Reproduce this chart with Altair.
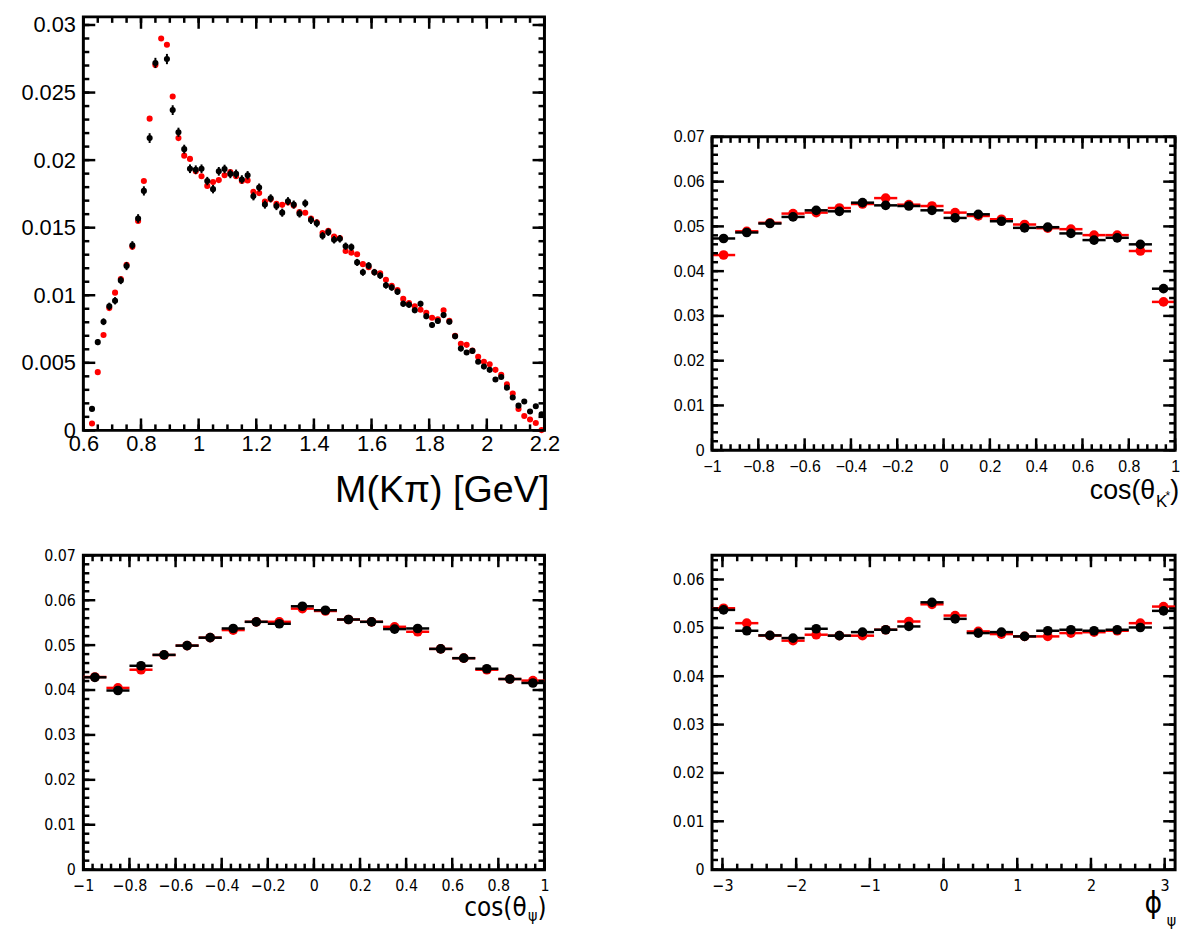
import altair as alt
import pandas as pd

# ---------------- data ----------------
MKPI_BINS = [0.63, 0.65, 0.67, 0.69, 0.71, 0.73, 0.75, 0.77, 0.79, 0.81,
             0.83, 0.85, 0.87, 0.89, 0.91, 0.93, 0.95, 0.97, 0.99, 1.01,
             1.03, 1.05, 1.07, 1.09, 1.11, 1.13, 1.15, 1.17, 1.19, 1.21,
             1.23, 1.25, 1.27, 1.29, 1.31, 1.33, 1.35, 1.37, 1.39, 1.41,
             1.43, 1.45, 1.47, 1.49, 1.51, 1.53, 1.55, 1.57, 1.59, 1.61,
             1.63, 1.65, 1.67, 1.69, 1.71, 1.73, 1.75, 1.77, 1.79, 1.81,
             1.83, 1.85, 1.87, 1.89, 1.91, 1.93, 1.95, 1.97, 1.99, 2.01,
             2.03, 2.05, 2.07, 2.09, 2.11, 2.13, 2.15, 2.17, 2.19]
MKPI_DATA = [0.00159, 0.00653, 0.00804, 0.00918, 0.00959, 0.0111, 0.01216, 0.0137, 0.01568, 0.01772,
             0.02163, 0.02719, None, 0.02748, 0.0237, 0.02206, 0.02081, 0.01936, 0.01929, 0.01936,
             0.01845, 0.01785, 0.01917, 0.01934, 0.01898, 0.01898, 0.01857, 0.01888, 0.01732, 0.01797,
             0.01671, 0.01717, 0.0166, 0.01611, 0.01696, 0.01671, 0.01604, 0.0168, 0.01556, 0.01532,
             0.0144, 0.01467, 0.01411, 0.01418, 0.01363, 0.01356, 0.01243, 0.0117, 0.01219, 0.0117,
             0.01146, 0.01074, 0.01057, 0.01026, 0.00937, 0.0093, 0.00889, 0.00937, 0.00845, 0.0078,
             0.00809, 0.00853, 0.00804, 0.00696, 0.00605, 0.00576, 0.00588, 0.00508, 0.00472, 0.00448,
             0.00376, 0.00395, 0.00316, 0.00243, 0.00183, 0.00214, 0.0014, 0.00178, 0.00118]
MKPI_ERR = [0.00012, 0.00022, 0.00025, 0.00027, 0.00027, 0.00028, 0.0003, 0.0003, 0.00032, 0.00034,
            0.00036, 0.00038, 0.0, 0.00038, 0.00036, 0.00034, 0.00033, 0.00032, 0.00032, 0.00032,
            0.00031, 0.00031, 0.00032, 0.00032, 0.00032, 0.00032, 0.00031, 0.00031, 0.0003, 0.0003,
            0.0003, 0.0003, 0.0003, 0.0003, 0.0003, 0.0003, 0.00029, 0.00029, 0.00029, 0.00029,
            0.00028, 0.00028, 0.00028, 0.00028, 0.00027, 0.00027, 0.00026, 0.00026, 0.00026, 0.00025,
            0.00025, 0.00025, 0.00024, 0.00024, 0.00023, 0.00023, 0.00022, 0.00022, 0.00022, 0.00021,
            0.00021, 0.00021, 0.00021, 0.0002, 0.00019, 0.00018, 0.00018, 0.00017, 0.00017, 0.00016,
            0.00015, 0.00015, 0.00014, 0.00013, 0.00012, 0.00012, 0.0001, 0.0001, 0.0001]
MKPI_FIT = [0.00051, 0.00431, 0.00706, 0.00905, 0.01019, 0.0112, 0.01226, 0.01358, 0.01549, 0.01845,
            0.02307, 0.02704, 0.029, 0.02854, 0.02471, 0.02163, 0.02033, 0.02009, 0.01917, 0.01881,
            0.01809, 0.01838, 0.01852, 0.01888, 0.01912, 0.01881, 0.01845, 0.0185, 0.01765, 0.01756,
            0.01693, 0.0171, 0.01676, 0.01669, 0.01686, 0.01664, 0.01616, 0.0161, 0.01568, 0.0154,
            0.0146, 0.01476, 0.01435, 0.01423, 0.01327, 0.01315, 0.01303, 0.0123, 0.01207, 0.0117,
            0.01163, 0.01115, 0.0107, 0.01038, 0.00973, 0.00942, 0.00918, 0.00893, 0.0087, 0.00833,
            0.00821, 0.00889, 0.0081, 0.007, 0.00641, 0.00633, 0.0059, 0.00544, 0.00508, 0.00489,
            0.00448, 0.00412, 0.0034, 0.00272, 0.00159, 0.00106, 0.0008, 0.00055, 0.00002]

COS_BINS = [-0.95, -0.85, -0.75, -0.65, -0.55, -0.45, -0.35, -0.25, -0.15, -0.05,
            0.05, 0.15, 0.25, 0.35, 0.45, 0.55, 0.65, 0.75, 0.85, 0.95]
COSK_DATA = [0.0473, 0.04864, 0.05064, 0.05211, 0.05359, 0.05337, 0.0553, 0.0547, 0.05455, 0.05359,
             0.05189, 0.0527, 0.05115, 0.04967, 0.04982, 0.04843, 0.04694, 0.04745, 0.04599, 0.03608]
COSK_FIT = [0.0436, 0.0489, 0.0508, 0.05286, 0.05308, 0.0541, 0.055, 0.05632, 0.05485, 0.05455,
            0.05308, 0.05233, 0.0516, 0.05042, 0.0496, 0.04938, 0.04805, 0.04805, 0.0445, 0.03313]
COSPSI_DATA = [0.04283, 0.03989, 0.0454, 0.04783, 0.04989, 0.05166, 0.05371, 0.05519, 0.05475, 0.05865,
               0.05777, 0.0557, 0.05519, 0.05357, 0.05371, 0.04916, 0.04709, 0.04474, 0.04245, 0.04157]
COSPSI_FIT = [0.0429, 0.04047, 0.04452, 0.0478, 0.04989, 0.05166, 0.05335, 0.05519, 0.05519, 0.05813,
              0.0576, 0.0557, 0.05519, 0.05408, 0.05298, 0.04916, 0.04709, 0.04452, 0.04245, 0.0421]
PHI_BINS = [-2.985, -2.670, -2.356, -2.042, -1.728, -1.414, -1.100, -0.785, -0.471, -0.157,
            0.157, 0.471, 0.785, 1.100, 1.414, 1.728, 2.042, 2.356, 2.670, 2.985]
PHI_DATA = [0.05371, 0.0494, 0.04844, 0.04789, 0.04981, 0.04838, 0.04912, 0.04961, 0.05029, 0.05528,
            0.05186, 0.04892, 0.04912, 0.04823, 0.0494, 0.04961, 0.0494, 0.04961, 0.05008, 0.05351]
PHI_FIT = [0.05405, 0.05097, 0.0484, 0.04735, 0.04858, 0.04838, 0.04838, 0.04961, 0.05131, 0.05487,
           0.05254, 0.04926, 0.04871, 0.04823, 0.04823, 0.04892, 0.0491, 0.0494, 0.05097, 0.0544]

TL_XTICKS = [0.6, 0.8, 1.0, 1.2, 1.4, 1.6, 1.8, 2.0, 2.2]
TL_YTICKS = [0, 0.005, 0.01, 0.015, 0.02, 0.025, 0.03]
COS_XTICKS = [-1, -0.8, -0.6, -0.4, -0.2, 0, 0.2, 0.4, 0.6, 0.8, 1]
ANG_YTICKS = [0, 0.01, 0.02, 0.03, 0.04, 0.05, 0.06, 0.07]
PHI_XTICKS = [-3, -2, -1, 0, 1, 2, 3]
PHI_YTICKS = [0, 0.01, 0.02, 0.03, 0.04, 0.05, 0.06]

# ---------------- styling ----------------
SANS = "Liberation Sans"
NARROW = "Liberation Sans Narrow, DejaVu Sans Condensed, Liberation Sans"
BLACK = "#000000"
RED = "#ff0000"
PI = 3.141592653589793
MAJ, MIN, TW = 12, 6, 2.5


def minor_ticks(lo, hi, step):
    n = int(round((hi - lo) / step))
    return [round(lo + step * i, 6) for i in range(n + 1)]


def one_row():
    return pd.DataFrame({"a": [0]})


def label_axis(orient, values, lfont, lsize, pad):
    return alt.Axis(orient=orient, values=values, format="~g", ticks=False, tickSize=0,
                    domain=False, grid=False, labelFont=lfont, labelFontSize=lsize,
                    labelPadding=pad, labelFlush=False, labelOverlap=False,
                    labelColor=BLACK, title=None)


def panel(xs_vals, data, fit, err, half, xdom, ydom, W, H, top, xmaj, xmin, ymaj, ymin,
          lfont, lsize, padx, pady, msize, hbars, titles):
    df = pd.DataFrame({"x": xs_vals, "data": data, "fit": fit, "err": err})
    df["lo"] = df["x"] - half
    df["hi"] = df["x"] + half
    df["elo"] = df["data"] - df["err"]
    df["ehi"] = df["data"] + df["err"]
    dd = df.dropna(subset=["data"])
    xs = alt.Scale(domain=xdom, nice=False, zero=False)
    ys = alt.Scale(domain=ydom, nice=False, zero=False, range=[H, top])

    def X(f, axis=None):
        return alt.X(f, scale=xs, axis=axis, title=None)

    def Y(f, axis=None):
        return alt.Y(f, scale=ys, axis=axis, title=None)

    layers = []
    # carrier of the tick labels
    layers.append(alt.Chart(df).mark_point(opacity=0).encode(
        x=X("x:Q", label_axis("bottom", xmaj, lfont, lsize, padx)),
        y=Y("fit:Q", label_axis("left", ymaj, lfont, lsize, pady))))
    if hbars:
        layers.append(alt.Chart(df).mark_rule(color=RED, strokeWidth=2.5).encode(
            x=X("lo:Q"), x2="hi:Q", y=Y("fit:Q")))
        layers.append(alt.Chart(df).mark_circle(color=RED, size=msize, opacity=1).encode(
            x=X("x:Q"), y=Y("fit:Q")))
        layers.append(alt.Chart(dd).mark_rule(color=BLACK, strokeWidth=2.5).encode(
            x=X("lo:Q"), x2="hi:Q", y=Y("data:Q")))
    else:
        layers.append(alt.Chart(df).mark_circle(color=RED, size=msize, opacity=1).encode(
            x=X("x:Q"), y=Y("fit:Q")))
        layers.append(alt.Chart(dd).mark_rule(color=BLACK, strokeWidth=2).encode(
            x=X("x:Q"), y=Y("elo:Q"), y2="ehi:Q"))
    layers.append(alt.Chart(dd).mark_circle(color=BLACK, size=msize, opacity=1).encode(
        x=X("x:Q"), y=Y("data:Q")))
    # inward ticks on all four sides (positions through the scales, no axis)
    for vals, L in ((xmin, MIN), (xmaj, MAJ)):
        base = alt.Chart(pd.DataFrame({"t": vals})).mark_rule(color=BLACK, strokeWidth=TW)
        layers.append(base.encode(x=alt.X("t:Q", scale=xs, axis=None),
                                  y=alt.value(H), y2=alt.value(H - L)))
        layers.append(base.encode(x=alt.X("t:Q", scale=xs, axis=None),
                                  y=alt.value(top), y2=alt.value(top + L)))
    for vals, L in ((ymin, MIN), (ymaj, MAJ)):
        base = alt.Chart(pd.DataFrame({"t": vals})).mark_rule(color=BLACK, strokeWidth=TW)
        layers.append(base.encode(y=alt.Y("t:Q", scale=ys, axis=None),
                                  x=alt.value(0), x2=alt.value(L)))
        layers.append(base.encode(y=alt.Y("t:Q", scale=ys, axis=None),
                                  x=alt.value(W), x2=alt.value(W - L)))
    # frame: the view stroke, except for a panel whose frame starts lower than its view
    if top > 0:
        layers.append(alt.Chart(one_row()).mark_rect(filled=False, stroke=BLACK, strokeWidth=3).encode(
            x=alt.value(0), x2=alt.value(W), y=alt.value(top), y2=alt.value(H)))
    # axis title pieces (with sub/superscripts)
    for txt, x, y, font, size in titles:
        layers.append(alt.Chart(one_row()).mark_text(
            text=txt, align="right", baseline="alphabetic", font=font, fontSize=size, color=BLACK
        ).encode(x=alt.value(x), y=alt.value(y)))
    out = (alt.layer(*layers)
           .resolve_axis(x="independent", y="independent")
           .properties(width=W, height=H))
    if top > 0:
        out = out.properties(view=alt.ViewBackground(stroke="transparent"))
    return out


# ---------------- panels ----------------
W_TL, H_TL = 465, 417
tl = panel(MKPI_BINS, MKPI_DATA, MKPI_FIT, MKPI_ERR, 0.01, [0.6, 2.2], [0, 0.0306],
           W_TL, H_TL, 0, TL_XTICKS, minor_ticks(0.6, 2.2, 0.05),
           TL_YTICKS, minor_ticks(0, 0.030, 0.001),
           SANS, 22, 3, 8, 38, False,
           [("M(Kπ) [GeV]", W_TL + 5, H_TL + 72, SANS, 38)])

W_TR, TOP_TR, H_TR = 467, 121, 437
tr = panel(COS_BINS, COSK_DATA, COSK_FIT, [0] * 20, 0.05, [-1, 1], [0, 0.07],
           W_TR, H_TR, TOP_TR, COS_XTICKS, minor_ticks(-1, 1, 0.04),
           ANG_YTICKS, minor_ticks(0, 0.07, 0.002),
           SANS, 16, 8, 8, 95, True,
           [(")", W_TR + 4, H_TR + 49, SANS, 27),
            ("*", W_TR - 5, H_TR + 50, SANS, 12),
            ("K", W_TR - 8, H_TR + 57, SANS, 17),
            ("cos(θ", W_TR - 20, H_TR + 49, SANS, 27)])

W_BL, H_BL = 465, 317
bl = panel(COS_BINS, COSPSI_DATA, COSPSI_FIT, [0] * 20, 0.05, [-1, 1], [0, 0.07],
           W_BL, H_BL, 0, COS_XTICKS, minor_ticks(-1, 1, 0.04),
           ANG_YTICKS, minor_ticks(0, 0.07, 0.002),
           NARROW, 16, 8, 8, 95, True,
           [(")", W_BL + 2, H_BL + 47, NARROW, 26),
            ("ψ", W_BL - 7, H_BL + 52, NARROW, 16),
            ("cos(θ", W_BL - 18, H_BL + 47, NARROW, 26)])

W_BR, H_BR = 467, 317
br = panel(PHI_BINS, PHI_DATA, PHI_FIT, [0] * 20, PI / 20, [-PI, PI], [0, 0.065],
           W_BR, H_BR, 0, PHI_XTICKS, minor_ticks(-3, 3, 0.2),
           PHI_YTICKS, minor_ticks(0, 0.064, 0.002),
           NARROW, 16, 8, 8, 95, True,
           [("ψ", W_BR + 1, H_BR + 57, NARROW, 16),
            ("ϕ", W_BR - 13, H_BR + 44, NARROW, 30)])

chart = (
    alt.concat(tl, tr, bl, br, columns=2, spacing={"row": 106, "column": 169}, bounds="flush")
    .properties(padding={"left": 11, "top": 0, "right": 5, "bottom": 5})
    .configure(background="white", font=SANS)
    .configure_view(stroke=BLACK, strokeWidth=3)
)

chart.save("out.html", embed_options={"renderer": "svg", "actions": False})
